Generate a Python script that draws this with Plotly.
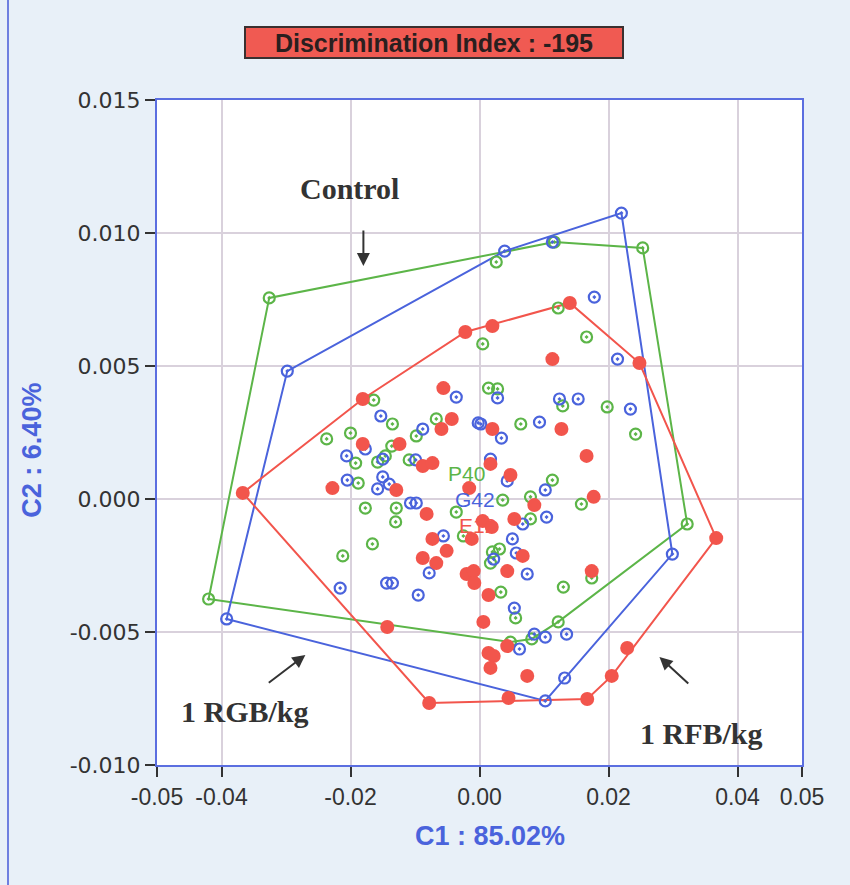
import plotly.graph_objects as go

# ---- scores on the first two discriminant components ----
pd0_c1 = [-0.0326, 0.0026, 0.0116, 0.0253, 0.0322, 0.0122, 0.0081, -0.0420, 0.0122, 0.0166,
          0.0005, 0.0014, 0.0028, -0.0164, -0.0135, -0.0067, -0.0237, -0.0200, -0.0098, -0.0136,
          -0.0146, -0.0158, -0.0192, -0.0109, -0.0188, -0.0177, -0.0129, -0.0130, -0.0036, -0.0166,
          -0.0212, -0.0025, 0.0129, 0.0198, 0.0064, 0.0242, 0.0113, 0.0079, 0.0036, 0.0158,
          0.0079, 0.0031, 0.0020, 0.0017, 0.0033, 0.0130, 0.0174, 0.0056, 0.0048]
pd0_c2 = [0.00756, 0.00891, 0.00966, 0.00944, -0.00094, -0.00462, -0.00526, -0.00376, 0.00718, 0.00609,
          0.00583, 0.00417, 0.00414, 0.00372, 0.00282, 0.00301, 0.00226, 0.00248, 0.00237, 0.00199,
          0.00162, 0.00139, 0.00135, 0.00147, 0.00060, -0.00034, -0.00034, -0.00086, -0.00049, -0.00169,
          -0.00214, -0.00139, 0.00350, 0.00346, 0.00282, 0.00244, 0.00071, 0.00008, -0.00004, -0.00019,
          -0.00075, -0.00188, -0.00199, -0.00241, -0.00350, -0.00331, -0.00297, -0.00447, -0.00538]

g42_c1 = [0.0220, 0.0039, 0.0113, -0.0298, -0.0392, 0.0102, 0.0132, 0.0299, 0.0178, 0.0214,
          -0.0036, -0.0153, -0.0088, -0.0002, -0.0177, -0.0206, -0.0150, -0.0205, -0.0150, -0.0140,
          -0.0158, -0.0099, -0.0107, -0.0098, 0.0028, 0.0124, 0.0153, 0.0234, 0.0093, 0.0002,
          0.0034, 0.0017, 0.0043, 0.0102, 0.0104, 0.0067, 0.0051, 0.0057, 0.0022, 0.0074,
          -0.0056, -0.0078, -0.0144, -0.0135, -0.0216, -0.0095, 0.0054, 0.0135, 0.0102, 0.0085,
          0.0062]
g42_c2 = [0.01075, 0.00932, 0.00966, 0.00481, -0.00451, -0.00759, -0.00673, -0.00207, 0.00759, 0.00526,
          0.00383, 0.00312, 0.00263, 0.00286, 0.00188, 0.00162, 0.00150, 0.00071, 0.00083, 0.00056,
          0.00038, 0.00147, -0.00015, -0.00015, 0.00380, 0.00376, 0.00376, 0.00338, 0.00289, 0.00282,
          0.00229, 0.00150, 0.00068, 0.00034, -0.00068, -0.00094, -0.00150, -0.00203, -0.00226, -0.00282,
          -0.00139, -0.00278, -0.00316, -0.00316, -0.00335, -0.00361, -0.00410, -0.00508, -0.00519, -0.00508,
          -0.00564]

e12_c1 = [-0.0367, -0.0181, -0.0022, 0.0020, 0.0140, 0.0248, 0.0367, 0.0229, 0.0205, 0.0167,
          0.0045, -0.0078, 0.0113, -0.0056, -0.0043, -0.0059, -0.0181, -0.0124, -0.0088, -0.0073,
          -0.0228, -0.0129, 0.0020, 0.0127, 0.0017, -0.0016, -0.0082, 0.0166, 0.0048, 0.0177,
          0.0085, 0.0054, 0.0005, 0.0019, -0.0073, -0.0012, -0.0051, -0.0088, -0.0067, 0.0067,
          0.0043, -0.0020, -0.0009, -0.0008, 0.0014, 0.0174, 0.0006, -0.0143, 0.0014, 0.0022,
          0.0017, 0.0074, 0.0043]
e12_c2 = [0.00023, 0.00376, 0.00628, 0.00650, 0.00737, 0.00511, -0.00147, -0.00560, -0.00665, -0.00752,
          -0.00748, -0.00767, 0.00526, 0.00417, 0.00301, 0.00263, 0.00207, 0.00207, 0.00124, 0.00135,
          0.00041, 0.00034, 0.00263, 0.00263, 0.00132, 0.00041, -0.00056, 0.00162, 0.00090, 0.00008,
          -0.00023, -0.00075, -0.00083, -0.00105, -0.00150, -0.00150, -0.00195, -0.00222, -0.00241, -0.00214,
          -0.00271, -0.00282, -0.00271, -0.00316, -0.00361, -0.00271, -0.00462, -0.00481, -0.00579, -0.00590,
          -0.00635, -0.00665, -0.00553]

group_names = ["P40", "G42", "E12"]
group_colors = ["#5cb548", "#4a63dc", "#f2554c"]

x_ticks = [-0.05, -0.04, -0.02, 0.00, 0.02, 0.04, 0.05]
x_tick_text = ["-0.05", "-0.04", "-0.02", "0.00", "0.02", "0.04", "0.05"]
y_ticks = [-0.010, -0.005, 0.000, 0.005, 0.010, 0.015]
y_tick_text = ["-0.010", "-0.005", "0.000", "0.005", "0.010", "0.015"]


def convex_hull(xs, ys):
    pts = sorted(set(zip(xs, ys)))

    def cross(o, a, b):
        return (a[0] - o[0]) * (b[1] - o[1]) - (a[1] - o[1]) * (b[0] - o[0])

    lower, upper = [], []
    for p in pts:
        while len(lower) >= 2 and cross(lower[-2], lower[-1], p) <= 0:
            lower.pop()
        lower.append(p)
    for p in reversed(pts):
        while len(upper) >= 2 and cross(upper[-2], upper[-1], p) <= 0:
            upper.pop()
        upper.append(p)
    hull = lower[:-1] + upper[:-1]
    hull.append(hull[0])
    return [p[0] for p in hull], [p[1] for p in hull]


groups = [(pd0_c1, pd0_c2), (g42_c1, g42_c2), (e12_c1, e12_c2)]

fig = go.Figure()

# group envelopes
for (gx, gy), name, col in zip(groups, group_names, group_colors):
    hx, hy = convex_hull(gx, gy)
    fig.add_trace(go.Scatter(x=hx, y=hy, mode="lines", line=dict(color=col, width=2),
                             hoverinfo="skip", showlegend=False))

# individual samples
fig.add_trace(go.Scatter(x=pd0_c1, y=pd0_c2, mode="markers", name=group_names[0],
                         marker=dict(symbol="circle-open-dot", size=11, color=group_colors[0],
                                     line=dict(width=2.2, color=group_colors[0]))))
fig.add_trace(go.Scatter(x=g42_c1, y=g42_c2, mode="markers", name=group_names[1],
                         marker=dict(symbol="circle-open-dot", size=11, color=group_colors[1],
                                     line=dict(width=2.2, color=group_colors[1]))))
fig.add_trace(go.Scatter(x=e12_c1, y=e12_c2, mode="markers", name=group_names[2],
                         marker=dict(symbol="circle", size=14, color=group_colors[2])))

annotations = []

# group labels stacked near the centroids
label_pos = [(-0.0020, 0.00098), (-0.0007, 0.00000), (-0.0003, -0.00098)]
for (lx, ly), name, col in zip(label_pos, group_names, group_colors):
    annotations.append(dict(x=lx, y=ly, xref="x", yref="y", text=name, showarrow=False,
                            borderpad=0, height=22,
                            font=dict(family="Liberation Sans", size=21, color=col)))

# treatment callouts
serif = dict(family="Liberation Serif", size=30, color="#333333")
annotations += [
    dict(x=-0.0202, y=0.01169, xref="x", yref="y", text="<b>Control</b>", showarrow=False, font=serif),
    dict(x=-0.0364, y=-0.00797, xref="x", yref="y", text="<b>1 RGB/kg</b>", showarrow=False, font=serif),
    dict(x=0.0344, y=-0.00883, xref="x", yref="y", text="<b>1 RFB/kg</b>", showarrow=False, font=serif),
    dict(x=-0.0180, y=0.00876, ax=-0.0180, ay=0.01015, xref="x", yref="y", axref="x", ayref="y",
         text="", showarrow=True, arrowhead=2, arrowsize=1.3, arrowwidth=2, arrowcolor="#333333"),
    dict(x=-0.0270, y=-0.00586, ax=-0.0329, ay=-0.00695, xref="x", yref="y", axref="x", ayref="y",
         text="", showarrow=True, arrowhead=2, arrowsize=1.3, arrowwidth=2, arrowcolor="#333333"),
    dict(x=0.0279, y=-0.00594, ax=0.0326, ay=-0.00699, xref="x", yref="y", axref="x", ayref="y",
         text="", showarrow=True, arrowhead=2, arrowsize=1.3, arrowwidth=2, arrowcolor="#333333"),
]

# header box
annotations.append(dict(x=0.4295, y=1.0, xref="paper", yref="paper", yshift=58, xanchor="center",
                        yanchor="middle", showarrow=False,
                        text="<b>Discrimination Index : -195</b>",
                        font=dict(family="Liberation Sans", size=25, color="#2a1f1f"),
                        bgcolor="#f05a52", bordercolor="#3a3030", borderwidth=2, borderpad=1,
                        width=374, height=27))

# axis titles
annotations.append(dict(x=0.516, y=-0.107, xref="paper", yref="paper", showarrow=False,
                        xanchor="center", yanchor="middle",
                        text="<b>C1 : 85.02%</b>",
                        font=dict(family="Liberation Sans", size=27, color="#4a63dc")))
annotations.append(dict(x=-0.194, y=0.474, xref="paper", yref="paper", showarrow=False,
                        xanchor="center", yanchor="middle",
                        text="<b>C2 : 6.40%</b>", textangle=-90,
                        font=dict(family="Liberation Sans", size=27, color="#4a63dc")))

shapes = [dict(type="line", xref="paper", yref="paper", x0=-0.231, x1=-0.231, y0=-0.2, y1=1.2,
               line=dict(color="#6f7fe0", width=2))]

axis_common = dict(showgrid=True, gridcolor="#d9d1dc", gridwidth=1.5, zeroline=False,
                   showline=True, linecolor="#5b6ee0", linewidth=2, mirror=True,
                   ticks="outside", ticklen=10, tickwidth=2, tickcolor="#333333")

fig.update_layout(
    width=850, height=885,
    margin=dict(l=157, r=48, t=100, b=120),
    paper_bgcolor="#e8f0f8", plot_bgcolor="#ffffff",
    showlegend=False,
    xaxis=dict(range=[-0.05, 0.05], tickvals=x_ticks, ticktext=x_tick_text,
               tickfont=dict(family="Liberation Sans", size=23, color="#333333"),
               **axis_common),
    yaxis=dict(range=[-0.010, 0.015], tickvals=y_ticks, ticktext=y_tick_text,
               tickfont=dict(family="DejaVu Sans", size=22, color="#333333"),
               **axis_common),
    annotations=annotations,
    shapes=shapes,
)

fig.write_html("out.html")
